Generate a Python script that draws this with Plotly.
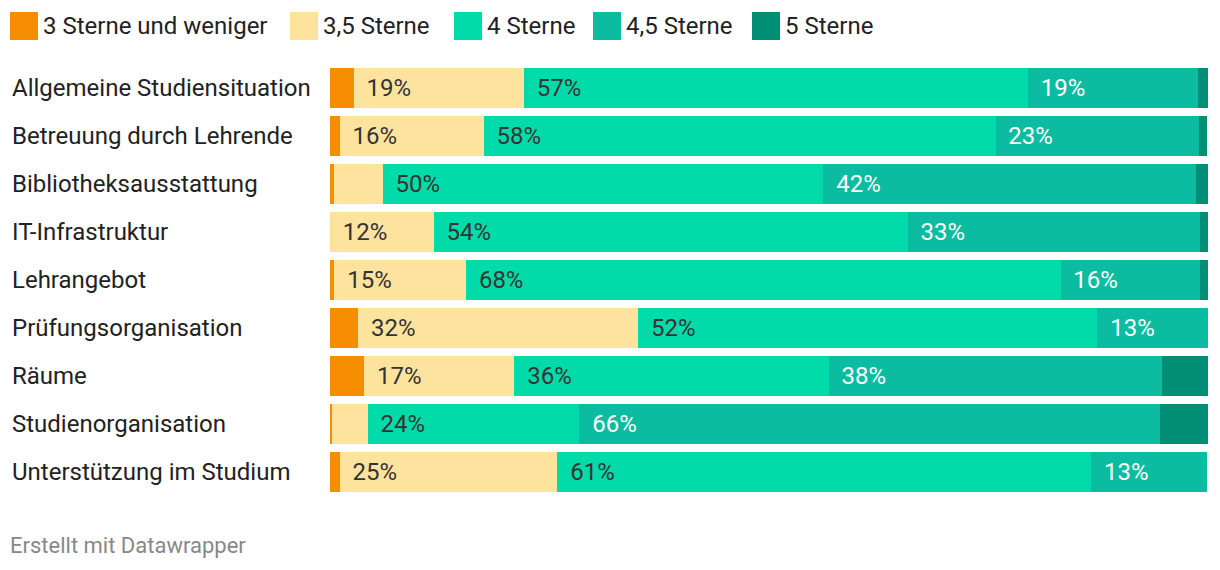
import plotly.graph_objects as go

categories = ["Allgemeine Studiensituation", "Betreuung durch Lehrende", "Bibliotheksausstattung",
              "IT-Infrastruktur", "Lehrangebot", "Prüfungsorganisation", "Räume",
              "Studienorganisation", "Unterstützung im Studium"]
series_names = ["3 Sterne und weniger", "3,5 Sterne", "4 Sterne", "4,5 Sterne", "5 Sterne"]
s3 = [2.7, 1.1, 0.5, 0.0, 0.5, 3.2, 3.9, 0.2, 1.1]
s35 = [19.4, 16.4, 5.5, 11.8, 15.0, 31.9, 17.1, 4.1, 24.8]
s4 = [57.4, 58.3, 50.2, 54.0, 67.7, 52.3, 35.8, 24.1, 60.8]
s45 = [19.4, 23.2, 42.4, 33.3, 15.9, 12.6, 38.0, 66.1, 13.2]
s5 = [1.1, 0.9, 1.4, 0.9, 0.9, 0.0, 5.2, 5.5, 0.0]

colors = ["#f78d00", "#fee39f", "#00dba9", "#0bbca0", "#008f75"]
text_colors = ["#333333", "#333333", "#333333", "#ffffff", "#ffffff"]
show_labels = [False, True, True, True, False]
min_label = 8

W, H = 1220, 570
L, R, T, B = 330, 12, 64, 74
pw, ph = W - L - R, H - T - B

def px2x(px):
    return (px - L) / pw

def py2y(py):
    return (H - B - py) / ph

fig = go.Figure()
all_series = [s3, s35, s4, s45, s5]
for name, vals, col, tcol, lab in zip(series_names, all_series, colors, text_colors, show_labels):
    texts = [("\u2009\u2009%d%%" % round(v)) if (lab and v >= min_label) else "" for v in vals]
    fig.add_trace(go.Bar(
        y=categories, x=vals, name=name, orientation="h",
        marker=dict(color=col, line=dict(width=0)),
        text=texts, textposition="inside", insidetextanchor="start", textangle=0,
        textfont=dict(family="Roboto", size=24, color=tcol),
        cliponaxis=False, hoverinfo="skip", showlegend=False,
    ))

annotations = []
for c in categories:
    annotations.append(dict(x=px2x(10), y=c, xref="paper", yref="y", text=c, showarrow=False,
                            xanchor="left", yanchor="middle",
                            font=dict(family="Roboto", size=24, color="#222222")))

# manual legend
legend_x = [10, 290, 454, 593, 752]
shapes = []
for lx, name, col in zip(legend_x, series_names, colors):
    shapes.append(dict(type="rect", xref="paper", yref="paper",
                       x0=px2x(lx), x1=px2x(lx + 28), y0=py2y(40), y1=py2y(12),
                       fillcolor=col, line=dict(width=0)))
    annotations.append(dict(x=px2x(lx + 31), y=py2y(26), xref="paper", yref="paper", text=name,
                            showarrow=False, xanchor="left", yanchor="middle",
                            font=dict(family="Roboto", size=24, color="#222222")))

annotations.append(dict(x=px2x(8), y=py2y(545), xref="paper", yref="paper",
                        text="Erstellt mit Datawrapper", showarrow=False,
                        xanchor="left", yanchor="middle",
                        font=dict(family="Roboto", size=22, color="#888888")))

fig.update_layout(
    barmode="stack", bargap=1 - 40 / 48,
    width=W, height=H, margin=dict(l=L, r=R, t=T, b=B, pad=0),
    paper_bgcolor="white", plot_bgcolor="white",
    xaxis=dict(range=[0, 100], visible=False, fixedrange=True),
    yaxis=dict(autorange="reversed", showticklabels=False, showgrid=False, zeroline=False,
               showline=False, ticks="", fixedrange=True),
    annotations=annotations, shapes=shapes,
    uniformtext=dict(minsize=24, mode="show"),
    font=dict(family="Roboto"),
)

fig.write_html("out.html", config={"displayModeBar": False},
               post_script="document.body.style.margin='0';document.body.style.padding='0';")
